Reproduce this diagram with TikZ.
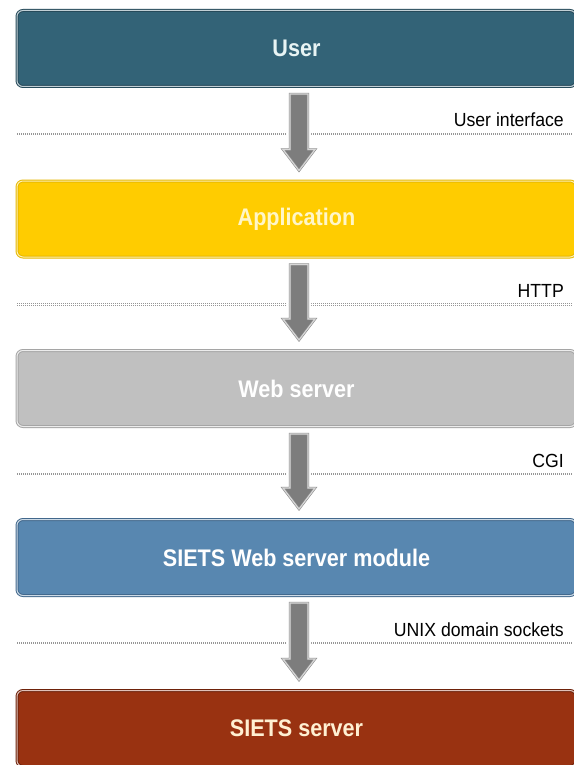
\documentclass[tikz,border=0pt]{standalone}
\usepackage{fontspec}
\setmainfont{Liberation Sans}
\newfontfamily\boxfont{Liberation Sans}[FakeStretch=0.9]
\newfontfamily\labfont{Liberation Sans}[FakeStretch=0.93]
\usetikzlibrary{calc}
\definecolor{userC}{RGB}{51,99,119}
\definecolor{userD}{RGB}{38,74,90}
\definecolor{userT}{RGB}{232,244,244}
\definecolor{appC}{RGB}{255,204,0}
\definecolor{appD}{RGB}{230,184,0}
\definecolor{appT}{RGB}{255,246,200}
\definecolor{webC}{RGB}{192,192,192}
\definecolor{webD}{RGB}{165,165,165}
\definecolor{modC}{RGB}{88,135,176}
\definecolor{modD}{RGB}{66,104,140}
\definecolor{srvC}{RGB}{153,50,17}
\definecolor{srvD}{RGB}{110,34,10}
\definecolor{srvT}{RGB}{255,240,210}
\definecolor{arrF}{RGB}{125,125,125}
\definecolor{arrL}{RGB}{215,215,215}
\definecolor{arrO}{RGB}{140,140,140}
\definecolor{sepC}{RGB}{150,150,150}
\tikzset{
  layerbox/.style n args={3}{draw=#2, fill=#1, text=#3, double=white!70!#1,
    line width=1pt, double distance=1pt, rounded corners=6pt,
    minimum width=559pt, minimum height=76pt, inner sep=0pt,
    font=\boxfont\bfseries\fontsize{24}{26}\selectfont},
  lab/.style={font=\labfont\fontsize{19}{22}\selectfont, text=black, inner sep=0pt},
  sepline/.style={draw=sepC, line width=0.9pt, dash pattern=on 1pt off 1pt},
  blockarrow/.style={fill=arrF, draw=arrO, double=arrL, line width=0.6pt, double distance=1.2pt},
  halo/.style={fill=white, draw=white, line width=6pt}
}
\newcommand{\layerarrow}[2]{%
  \foreach \st in {halo,blockarrow}{
  \path[\st] ($(#1.south)+(-6.5,7)$) -- ($(#1.south)+(11.5,7)$)
    -- ($(#2.north)+(11.5,-31)$) -- ($(#2.north)+(18.5,-31)$)
    -- ($(#2.north)+(2.5,-10)$) -- ($(#2.north)+(-13.5,-31)$)
    -- ($(#2.north)+(-6.5,-31)$) -- cycle;}%
}
\begin{document}
\begin{tikzpicture}[x=1pt,y=-1pt]
\useasboundingbox (0,0) rectangle (573,765);
\fill[white] (0,0) rectangle (573,765);
\coordinate (L) at (17,0);
\coordinate (R) at (573,0);

\node[layerbox={userC}{userD}{userT}] (b1) at (296.5,48.5) {User};
\node[layerbox={appC}{appD}{appT}] (b2) at (296.5,219) {Application};
\node[layerbox={webC}{webD}{white}] (b3) at (296.5,388.5) {Web server};
\node[layerbox={modC}{modD}{white}] (b4) at (296.5,557.5) {SIETS Web server module};
\node[layerbox={srvC}{srvD}{srvT}] (b5) at (296.5,728.5) {SIETS server};

\foreach \a/\t in {b1/User interface, b2/HTTP, b3/CGI, b4/UNIX domain sockets}{
  \coordinate (m-\a) at ($(\a.south)+(0,47)$);
  \draw[sepline] ($(m-\a -| L)+(0,-0.8)$) -- ($(m-\a -| R)+(0,-0.8)$);
  \draw[sepline] ($(m-\a -| L)+(0,0.8)$) -- ($(m-\a -| R)+(0,0.8)$);
  \node[lab, anchor=base east] (l-\a) at ($(m-\a -| R)+(-9,-7)$) {\t};
}
\layerarrow{b1}{b2}
\layerarrow{b2}{b3}
\layerarrow{b3}{b4}
\layerarrow{b4}{b5}
\end{tikzpicture}
\end{document}
